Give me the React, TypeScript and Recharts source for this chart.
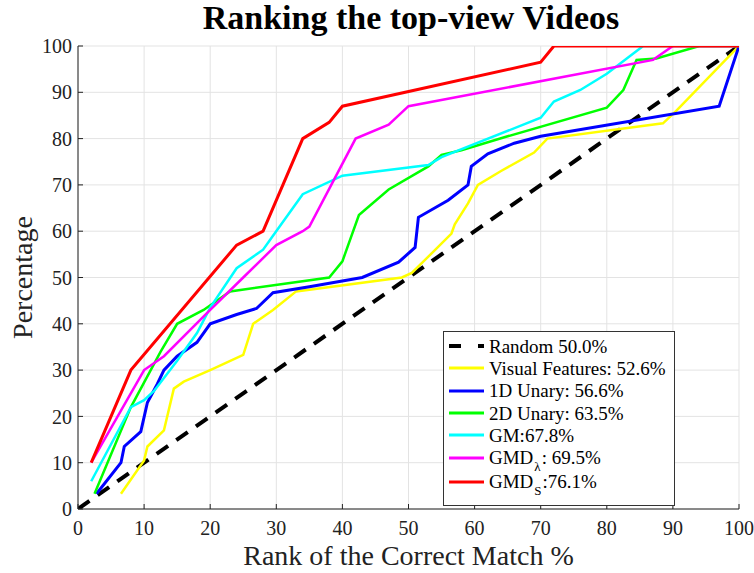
import React from 'react';
import { LineChart, Line, XAxis, YAxis, CartesianGrid, Legend, Label } from 'recharts';

const TICKS = [0, 10, 20, 30, 40, 50, 60, 70, 80, 90, 100];

const random = [
  { x: 0, y: 0 },
  { x: 100, y: 100 },
];

const visualFeatures = [
  { x: 6.5, y: 3.3 }, { x: 10, y: 10.5 }, { x: 10.5, y: 13.5 }, { x: 13, y: 17 },
  { x: 14.5, y: 26 }, { x: 16, y: 27.5 }, { x: 20, y: 30 }, { x: 25, y: 33.3 },
  { x: 26.5, y: 40 }, { x: 29.5, y: 43 }, { x: 33, y: 47 }, { x: 49, y: 50 },
  { x: 50.5, y: 51 }, { x: 53, y: 54.5 }, { x: 56.5, y: 59.5 }, { x: 57, y: 61.5 },
  { x: 59, y: 66 }, { x: 60.5, y: 70 }, { x: 64, y: 73 }, { x: 69, y: 77 },
  { x: 71, y: 80 }, { x: 88.5, y: 83.3 }, { x: 90.5, y: 86 }, { x: 100, y: 100 },
];

const unary1D = [
  { x: 2.8, y: 3.3 }, { x: 6.5, y: 10 }, { x: 7, y: 13.5 }, { x: 9.5, y: 16.7 },
  { x: 10.5, y: 23 }, { x: 12, y: 27 }, { x: 13, y: 30 }, { x: 15, y: 33 },
  { x: 18, y: 36 }, { x: 20, y: 40 }, { x: 24, y: 42 }, { x: 27, y: 43.3 },
  { x: 29.5, y: 46.7 }, { x: 35, y: 48 }, { x: 43, y: 50 }, { x: 48.5, y: 53.3 },
  { x: 51, y: 56.5 }, { x: 51.5, y: 63 }, { x: 56, y: 66.7 }, { x: 59, y: 70 },
  { x: 59.5, y: 74 }, { x: 62, y: 76.7 }, { x: 66, y: 79 }, { x: 70, y: 80.5 },
  { x: 97, y: 87 }, { x: 100, y: 100 },
];

const unary2D = [
  { x: 2.5, y: 3.3 }, { x: 8, y: 22 }, { x: 12.5, y: 34 }, { x: 15, y: 40 },
  { x: 19, y: 43 }, { x: 23, y: 47 }, { x: 38, y: 50 }, { x: 40, y: 53.5 },
  { x: 42.5, y: 63.5 }, { x: 47, y: 69 }, { x: 53, y: 74 }, { x: 55, y: 76.5 },
  { x: 58, y: 77.5 }, { x: 65, y: 80.5 }, { x: 80, y: 86.7 }, { x: 82.5, y: 90.5 },
  { x: 84.5, y: 97 }, { x: 87.5, y: 97.3 }, { x: 94, y: 100 }, { x: 100, y: 100 },
];

const gm = [
  { x: 2, y: 6 }, { x: 8, y: 22 }, { x: 10, y: 23.5 }, { x: 11.5, y: 25.5 },
  { x: 15, y: 32 }, { x: 18, y: 38 }, { x: 20, y: 43.5 }, { x: 24, y: 52 },
  { x: 28, y: 56 }, { x: 29.5, y: 59 }, { x: 34, y: 68 }, { x: 40, y: 72 },
  { x: 53, y: 74.3 }, { x: 55, y: 76 }, { x: 70, y: 84.5 }, { x: 72, y: 88 },
  { x: 76, y: 90.5 }, { x: 80, y: 94 }, { x: 85.5, y: 100 }, { x: 100, y: 100 },
];

const gmdLambda = [
  { x: 2, y: 10 }, { x: 10, y: 30 }, { x: 13, y: 33 }, { x: 20, y: 43 },
  { x: 25, y: 50 }, { x: 30, y: 57 }, { x: 34, y: 60 }, { x: 35, y: 61 },
  { x: 42, y: 80 }, { x: 47, y: 83 }, { x: 50, y: 87 }, { x: 87, y: 97 },
  { x: 90, y: 100 }, { x: 100, y: 100 },
];

const gmdS = [
  { x: 2, y: 10 }, { x: 8, y: 30 }, { x: 24, y: 57 }, { x: 28, y: 60 },
  { x: 34, y: 80 }, { x: 38, y: 83.5 }, { x: 40, y: 87 }, { x: 70, y: 96.5 },
  { x: 72, y: 100 }, { x: 100, y: 100 },
];

const serif = '"Liberation Serif", "Times New Roman", serif';

const subStyle: React.CSSProperties = { fontSize: 13, position: 'relative', top: 7, verticalAlign: 'baseline', margin: '0 1px' };

const legendItems = [
  { color: '#000000', dashed: true, label: <>Random 50.0%</> },
  { color: '#ffff00', label: <>Visual Features: 52.6%</> },
  { color: '#0000ff', label: <>1D Unary: 56.6%</> },
  { color: '#00ff00', label: <>2D Unary: 63.5%</> },
  { color: '#00ffff', label: <>GM:67.8%</> },
  { color: '#ff00ff', label: <>GMD<span style={subStyle}>λ</span>: 69.5%</> },
  { color: '#ff0000', label: <>GMD<span style={subStyle}>S</span>:76.1%</> },
];

const LegendBox = () => (
  <div style={{
    border: '1px solid #333',
    background: '#fff',
    padding: '3px 8px 10px 5px',
    fontFamily: serif,
    fontSize: 19,
    color: '#000',
    lineHeight: 1,
  }}>
    {legendItems.map((it, i) => (
      <div key={i} style={{ display: 'flex', alignItems: 'center', height: i === 6 ? 26 : 22.3 }}>
        <svg width={36} height={10} style={{ marginRight: 4, flex: 'none' }}>
          <line x1={0} y1={5} x2={35} y2={5} stroke={it.color}
            strokeWidth={it.dashed ? 4 : 3} strokeDasharray={it.dashed ? '12 17' : undefined} />
        </svg>
        <span style={{ whiteSpace: 'nowrap', fontFamily: serif }}>{it.label}</span>
      </div>
    ))}
  </div>
);

const tickFont = { fill: '#222', fontSize: 20, fontFamily: serif };

const App: React.FC = () => {
  return (
    <div style={{ position: 'absolute', left: 0, top: 0, width: 754, height: 573, background: '#fff', fontFamily: serif }}>
      <div style={{
        position: 'absolute', left: 0, top: 1, width: 754, textAlign: 'center',
        paddingLeft: 68, boxSizing: 'border-box', lineHeight: '34px',
        fontFamily: serif, fontWeight: 'bold', fontSize: 34,
      }}>
        Ranking the top-view Videos
      </div>
      <LineChart width={754} height={573} margin={{ top: 46, right: 15, left: 0, bottom: 0 }}
        style={{ fontFamily: serif }}>
        <CartesianGrid stroke="#e3e3e3" strokeWidth={1} horizontalValues={TICKS} verticalValues={TICKS} />
        <XAxis type="number" dataKey="x" domain={[0, 100]} ticks={TICKS} height={64}
          stroke="#222" tickSize={-5} tickMargin={17} allowDataOverflow tick={tickFont}>
          <Label value="Rank of the Correct Match %" position="insideBottom" offset={8}
            style={{ fontSize: 28, fontFamily: serif, fill: '#222' }} />
        </XAxis>
        <XAxis xAxisId="top" orientation="top" type="number" dataKey="x" domain={[0, 100]} ticks={TICKS}
          height={0} stroke="#222" tick={false} tickSize={-5} />
        <YAxis type="number" domain={[0, 100]} ticks={TICKS} width={78} stroke="#222"
          tickSize={-5} tickMargin={11} allowDataOverflow tick={tickFont}>
          <Label value="Percentage" angle={-90} position="insideLeft" offset={22}
            style={{ fontSize: 28, fontFamily: serif, fill: '#222', textAnchor: 'middle' }} />
        </YAxis>
        <YAxis yAxisId="right" orientation="right" type="number" domain={[0, 100]} ticks={TICKS}
          width={0} stroke="#222" tick={false} tickSize={-5} />
        <Line data={random} dataKey="y" stroke="#000" strokeWidth={4} strokeDasharray="14 10"
          dot={false} isAnimationActive={false} />
        <Line data={visualFeatures} dataKey="y" stroke="#ffff00" strokeWidth={2.5} dot={false} isAnimationActive={false} />
        <Line data={unary1D} dataKey="y" stroke="#0000ff" strokeWidth={3} dot={false} isAnimationActive={false} />
        <Line data={unary2D} dataKey="y" stroke="#00ff00" strokeWidth={2.5} dot={false} isAnimationActive={false} />
        <Line data={gm} dataKey="y" stroke="#00ffff" strokeWidth={2.5} dot={false} isAnimationActive={false} />
        <Line data={gmdLambda} dataKey="y" stroke="#ff00ff" strokeWidth={2.5} dot={false} isAnimationActive={false} />
        <Line data={gmdS} dataKey="y" stroke="#ff0000" strokeWidth={3} dot={false} isAnimationActive={false} />
        <Legend content={<LegendBox />} layout="horizontal" verticalAlign="middle" align="center"
          wrapperStyle={{ left: 443, top: 331, width: 'auto' }} />
      </LineChart>
    </div>
  );
};

export default App;
